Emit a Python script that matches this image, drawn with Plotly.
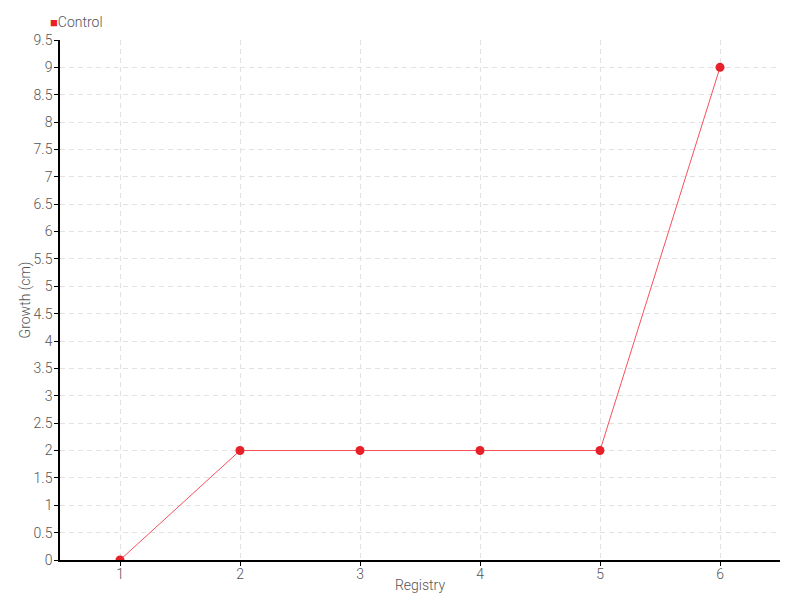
import plotly.graph_objects as go

registry = [1, 2, 3, 4, 5, 6]
growth = [0, 2, 2, 2, 2, 9]
series_name = "Control"
y_ticks = [i * 0.5 for i in range(20)]
y_tick_labels = ["0", "0.5", "1", "1.5", "2", "2.5", "3", "3.5", "4", "4.5", "5", "5.5",
                 "6", "6.5", "7", "7.5", "8", "8.5", "9", "9.5"]

FONT = "Roboto, sans-serif"
TXT = "#555555"
RED = "#e8202a"

fig = go.Figure()
fig.add_trace(go.Scatter(
    x=registry, y=growth, name=series_name, mode="lines+markers",
    line=dict(color="#f5505c", width=1),
    marker=dict(color=RED, size=9),
    showlegend=False,
))

axis_common = dict(
    showline=True, linecolor="black", linewidth=1.5,
    ticks="outside", ticklen=4, tickcolor="black",
    showgrid=True, gridcolor="#e2e2e2", griddash="5px,4px", gridwidth=1,
    zeroline=False, automargin=False,
    tickfont=dict(family=FONT, size=14, color=TXT, weight=300),
    title_font=dict(family=FONT, size=14, color=TXT, weight=300),
)

fig.update_layout(
    width=792, height=592,
    paper_bgcolor="white", plot_bgcolor="white",
    margin=dict(l=52, r=20, t=32, b=40),
    font=dict(family=FONT, size=14, color=TXT, weight=300),
    showlegend=False,
    xaxis=dict(range=[0.5, 6.5], tickvals=registry, ticktext=[str(v) for v in registry],
               ticklabelstandoff=-4,
               title=dict(text="Registry", standoff=0), **axis_common),
    yaxis=dict(range=[0, 9.5], tickvals=y_ticks, ticktext=y_tick_labels,
               ticklabelstandoff=-1,
               title=dict(text="Growth (cm)", standoff=0), **axis_common),
    annotations=[dict(
        xref="paper", yref="paper", x=-0.016, y=1.0, yshift=18,
        xanchor="left", yanchor="middle", showarrow=False,
        text=f"<span style='color:{RED};font-size:13px'>■</span>{series_name}",
        font=dict(family=FONT, size=14, color=TXT, weight=300),
    )],
)

fig.write_html("out.html")
